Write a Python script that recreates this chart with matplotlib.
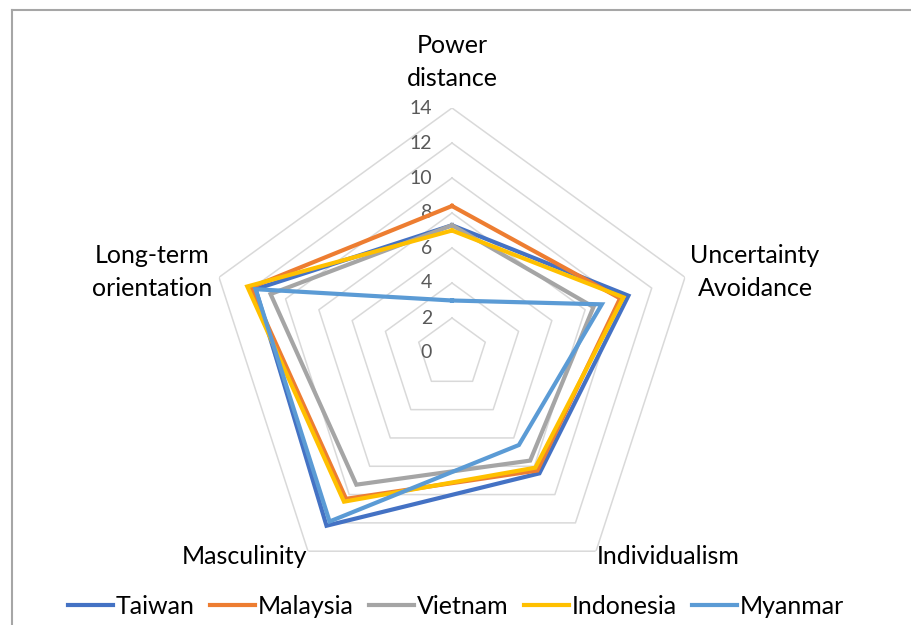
import numpy as np
import matplotlib
matplotlib.use("Agg")
from matplotlib import pyplot as plt
from matplotlib.lines import Line2D
from matplotlib.transforms import offset_copy

plt.rcParams['font.family'] = ['Lato', 'DejaVu Sans']

# dimensions of the radar, clockwise from the top
categories = ["Power\ndistance", "Uncertainty\nAvoidance", "Individualism",
              "Masculinity", "Long-term\norientation"]
countries = ["Taiwan", "Malaysia", "Vietnam", "Indonesia", "Myanmar"]
taiwan = [7.3, 10.6, 8.5, 12.2, 11.8]
malaysia = [8.4, 10.1, 8.3, 10.3, 12.1]
vietnam = [7.3, 8.5, 7.6, 9.3, 10.9]
indonesia = [7.0, 10.3, 8.1, 10.5, 12.3]
myanmar = [3.0, 9.0, 6.5, 11.9, 11.8]
rticks = [0, 2, 4, 6, 8, 10, 12, 14]

series = [taiwan, malaysia, vietnam, indonesia, myanmar]
colors = ["#4472C4", "#ED7D31", "#A5A5A5", "#FFC000", "#5B9BD5"]

W, H = 912, 625
fig = plt.figure(figsize=(W / 100, H / 100), dpi=100)

cx, cy, rad = 452, 353, 245   # centre and outer radius in pixels
ax = fig.add_axes([(cx - rad) / W, (H - cy - rad) / H, 2 * rad / W, 2 * rad / H],
                  projection='polar')
ax.set_theta_offset(np.pi / 2)
ax.set_theta_direction(-1)
ax.set_ylim(0, 14)
ax.grid(False)
ax.set_xticks([])
ax.set_yticks([])
ax.spines['polar'].set_visible(False)
ax.patch.set_visible(False)

n = len(categories)
theta = np.arange(n) * 2 * np.pi / n
theta_c = np.append(theta, theta[0])


def straight(lines):
    # polar axes bend lines into arcs, radar edges must stay straight
    for ln in lines:
        ln.get_path()._interpolation_steps = 1


# pentagon grid (no spokes in the original)
for r in rticks[1:]:
    straight(ax.plot(theta_c, [r] * (n + 1), color="#D9D9D9", lw=1.1, zorder=1))

# radial tick labels, left of the top vertex
tr = offset_copy(ax.transData, fig=fig, x=-20, y=0, units='dots')
for r in rticks:
    ax.text(0, r, str(r), transform=tr, ha='right', va='center',
            fontsize=14, color="#595959")

handles = []
for name, vals, col in zip(countries, series, colors):
    lines = ax.plot(theta_c, vals + vals[:1], color=col, lw=3, label=name,
                    solid_joinstyle='miter', zorder=3)
    straight(lines)
    handles.append(lines[0])

# category labels
label_pos = [(452, 62), (755, 272), (668, 556), (245, 556), (152, 272)]
for txt, (px, py) in zip(categories, label_pos):
    fig.text(px / W, 1 - py / H, txt, ha='center', va='center',
             fontsize=18, color="#000000", linespacing=1.5)

fig.legend(handles=handles, loc='center', bbox_to_anchor=(0.5, 1 - 606 / H),
           ncol=5, frameon=False, fontsize=18, handlelength=1.8,
           handletextpad=0.12, columnspacing=0.6)

# chart border (left and top only in the crop)
fig.add_artist(Line2D([12 / W, 12 / W], [0, 1 - 10 / H], color="#A6A6A6", lw=1.5))
fig.add_artist(Line2D([12 / W, 1], [1 - 10 / H, 1 - 10 / H], color="#A6A6A6", lw=1.5))

fig.savefig("out.png", dpi=100)
